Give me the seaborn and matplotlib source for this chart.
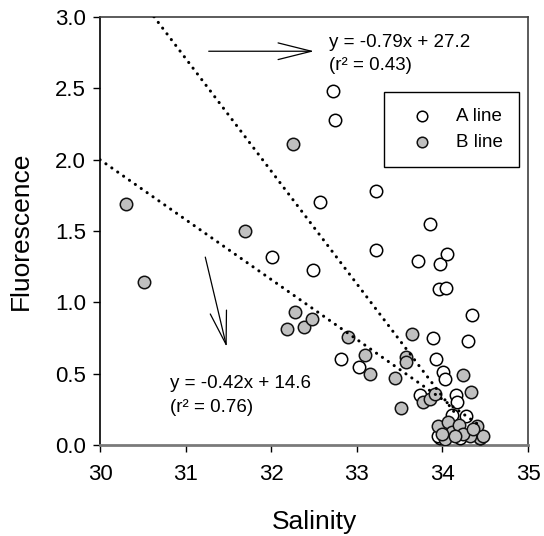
import numpy as np
import pandas as pd
import matplotlib
matplotlib.use("Agg")
import matplotlib.pyplot as plt
import seaborn as sns

# Salinity / fluorescence observations for the two transects
a_salinity = [32.72, 32.75, 32.57, 33.23, 33.86, 32.01, 32.49, 33.23, 33.71, 33.97,
              34.05, 33.96, 34.04, 34.35, 34.30, 33.89, 33.93, 34.01, 34.03, 34.16,
              34.17, 32.82, 33.02, 33.74, 34.28, 34.11, 33.97, 34.44, 33.95, 34.20,
              34.10]
a_fluor = [2.48, 2.28, 1.70, 1.78, 1.55, 1.32, 1.23, 1.37, 1.29, 1.27,
           1.34, 1.09, 1.10, 0.91, 0.73, 0.75, 0.60, 0.51, 0.46, 0.35,
           0.30, 0.60, 0.55, 0.35, 0.20, 0.21, 0.05, 0.05, 0.06, 0.05,
           0.08]

b_salinity = [32.26, 30.30, 31.69, 30.51, 32.28, 32.18, 32.38, 32.48, 32.90, 33.10,
              33.15, 33.45, 33.52, 33.65, 33.57, 33.58, 33.77, 33.86, 33.91, 34.24,
              34.33, 33.95, 34.07, 34.11, 34.19, 34.40, 34.44, 34.32, 34.03, 34.24,
              34.15, 34.48, 34.36, 34.00]
b_fluor = [2.11, 1.69, 1.50, 1.14, 0.93, 0.81, 0.83, 0.88, 0.76, 0.63,
           0.50, 0.47, 0.26, 0.78, 0.62, 0.58, 0.30, 0.32, 0.36, 0.49,
           0.37, 0.13, 0.16, 0.09, 0.14, 0.13, 0.05, 0.06, 0.04, 0.08,
           0.06, 0.06, 0.11, 0.08]

# Regression fits (slope, intercept, r^2) and the salinity span each is drawn over
a_fit = (-0.79, 27.2, 0.43)
b_fit = (-0.42, 14.6, 0.76)
a_span = (30.63, 34.15)
b_span = (30.0, 34.45)

x_ticks = [30, 31, 32, 33, 34, 35]
y_ticks = [0.0, 0.5, 1.0, 1.5, 2.0, 2.5, 3.0]

sns.set_theme(style="white")
plt.rcParams["font.family"] = ["Liberation Sans", "DejaVu Sans"]
plt.rcParams["text.color"] = "black"
plt.rcParams["axes.labelcolor"] = "black"
plt.rcParams["xtick.color"] = "black"
plt.rcParams["ytick.color"] = "black"

fig = plt.figure(figsize=(5.44, 5.36), dpi=100)
ax = fig.add_axes([100 / 544, 91 / 536, 428 / 544, 428 / 536])

df_a = pd.DataFrame({"Salinity": a_salinity, "Fluorescence": a_fluor})
df_b = pd.DataFrame({"Salinity": b_salinity, "Fluorescence": b_fluor})

sns.scatterplot(data=df_a, x="Salinity", y="Fluorescence", ax=ax, s=80,
                color="white", edgecolor="black", linewidth=1.1,
                label="A line", zorder=3)
sns.scatterplot(data=df_b, x="Salinity", y="Fluorescence", ax=ax, s=80,
                color="#c0c0c0", edgecolor="#111111", linewidth=1.1,
                label="B line", zorder=4)

# Dotted regression lines
for (slope, icpt, _), (x0, x1) in ((a_fit, a_span), (b_fit, b_span)):
    xs = np.array([x0, x1])
    ax.plot(xs, slope * xs + icpt, color="black", lw=2.2,
            linestyle=(0, (0.05, 2.3)), dash_capstyle="round", zorder=5)

# Fit equations and pointer arrows
txt_kw = dict(fontsize=13.5, color="black", va="center", ha="left")
ax.text(32.68, 2.82, f"y = {a_fit[0]:.2f}x + {a_fit[1]:.1f}", **txt_kw)
ax.text(32.68, 2.66, f"(r\u00b2 = {a_fit[2]:.2f})", **txt_kw)
ax.text(30.82, 0.43, f"y = {b_fit[0]:.2f}x + {b_fit[1]:.1f}", **txt_kw)
ax.text(30.82, 0.26, f"(r\u00b2 = {b_fit[2]:.2f})", **txt_kw)

arrow_kw = dict(arrowstyle="->, head_length=2.4, head_width=0.6",
                color="black", lw=0.9, mutation_scale=10,
                shrinkA=0, shrinkB=0)
ax.annotate("", xy=(32.50, 2.76), xytext=(31.27, 2.76), arrowprops=arrow_kw)
ax.annotate("", xy=(31.48, 0.687), xytext=(31.23, 1.317), arrowprops=arrow_kw)

ax.set_xlim(30, 35)
ax.set_ylim(0, 3.0)
ax.set_xticks(x_ticks)
ax.set_xticklabels([str(t) for t in x_ticks])
ax.set_yticks(y_ticks)
ax.set_yticklabels([f"{t:.1f}" for t in y_ticks])
ax.tick_params(axis="both", which="major", direction="out", length=5, width=1,
               color="black", labelcolor="black", labelsize=16, pad=5,
               bottom=True, left=True)
ax.tick_params(axis="x", pad=9)

ax.set_xlabel("Salinity", fontsize=19, labelpad=18)
ax.set_ylabel("Fluorescence", fontsize=19, labelpad=16)

for side in ("top", "right"):
    ax.spines[side].set_color("#404040")
    ax.spines[side].set_linewidth(1.2)
ax.spines["left"].set_color("black")
ax.spines["left"].set_linewidth(1.2)
ax.spines["bottom"].set_color("#7a7a7a")
ax.spines["bottom"].set_linewidth(2.0)

leg = ax.legend(loc="upper left", bbox_to_anchor=(0.6636, 0.8248),
                borderaxespad=0, fontsize=13.5, frameon=True, fancybox=False,
                edgecolor="black", framealpha=1, markerscale=0.85,
                handlelength=2.3, handletextpad=0.7, labelspacing=0.45,
                borderpad=0.85)
leg.get_frame().set_linewidth(1.0)
for t in leg.get_texts():
    t.set_color("black")

fig.savefig("out.png", dpi=100, facecolor="white")
